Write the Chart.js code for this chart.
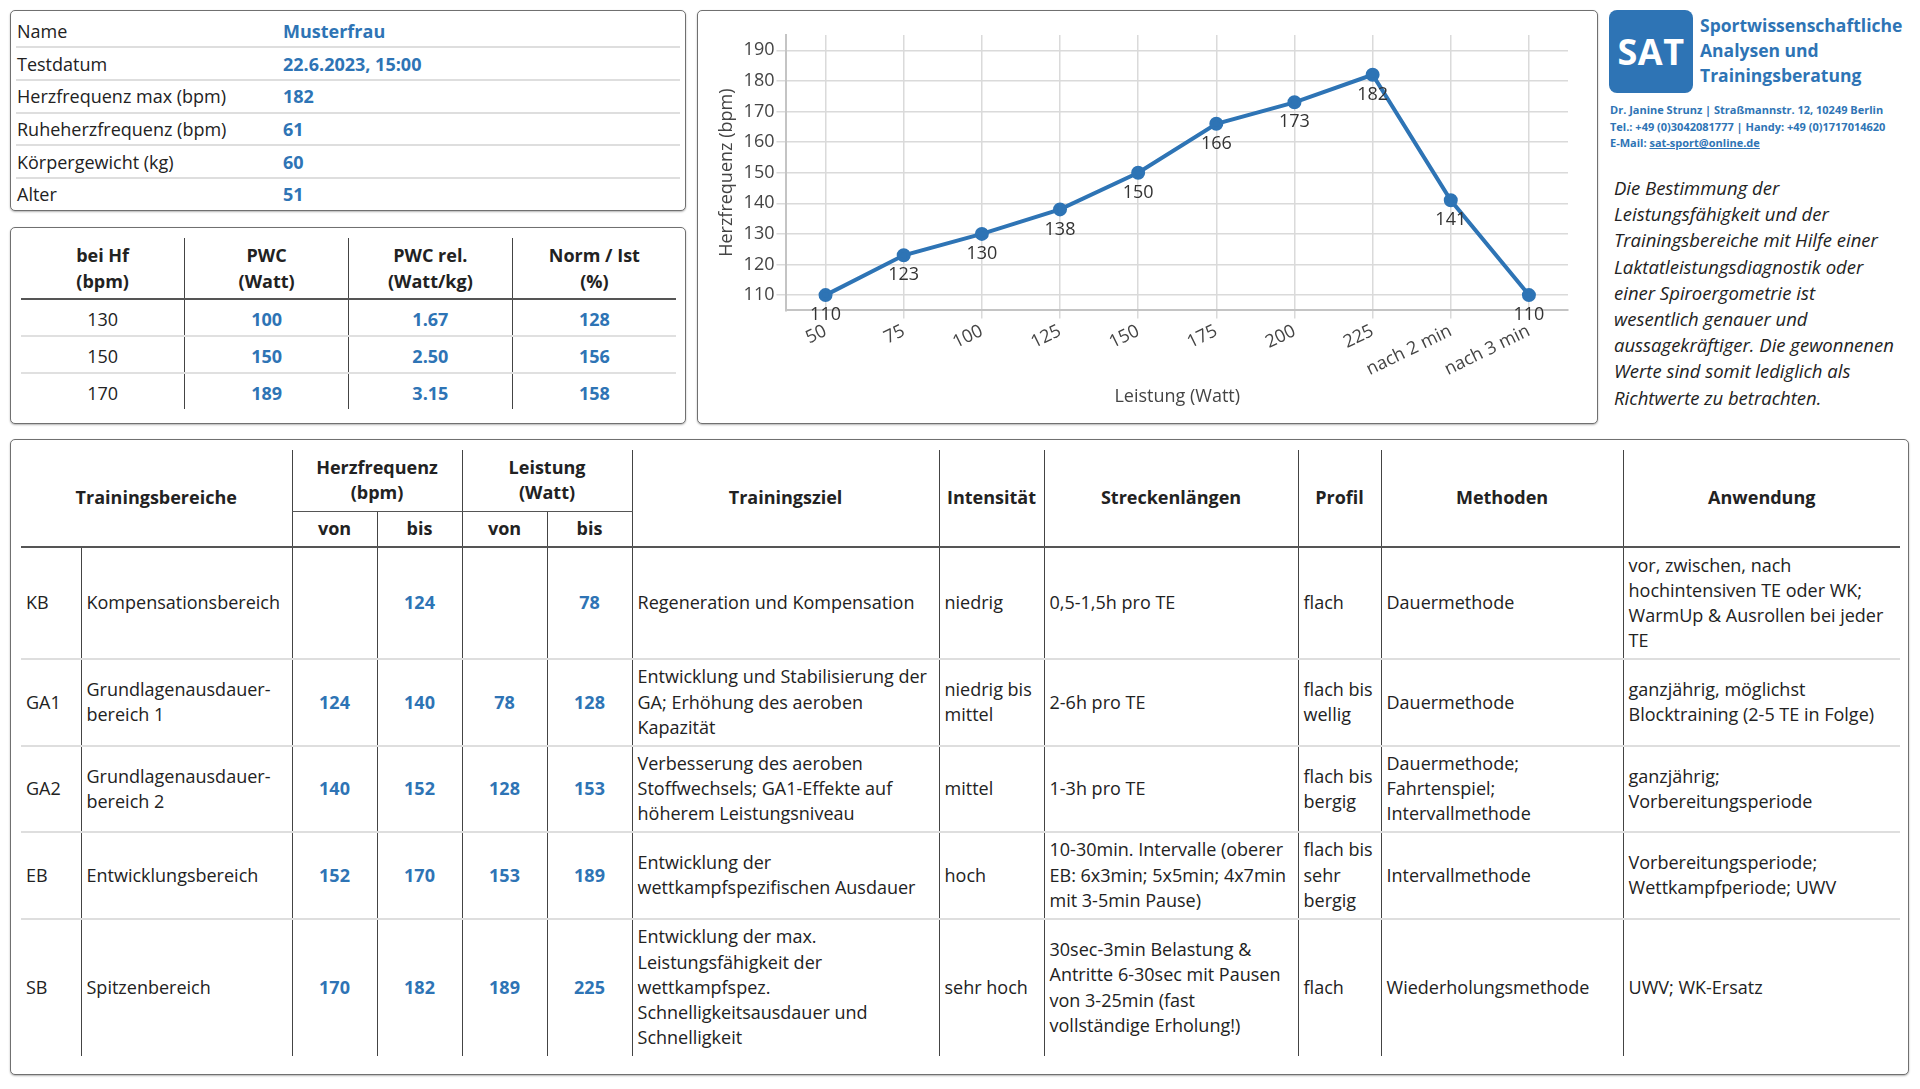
<!DOCTYPE html>
<html lang="de">
<head>
<meta charset="utf-8">
<title>Leistungsdiagnostik – Trainingsbereiche</title>
<script src="https://cdn.jsdelivr.net/npm/chart.js"></script>
<style>
  body { margin: 0; background: #fff; font-family: "Open Sans", sans-serif; color: #222; width: 1920px; height: 1089px; position: relative; overflow: hidden; }
  .box { position: absolute; box-sizing: border-box; border: 1px solid #707070; border-radius: 5px; box-shadow: 0 1px 2px rgba(0,0,0,0.3); background: #fff; }
  .blue { color: #2e74b5; font-weight: bold; }
  table { border-collapse: collapse; table-layout: fixed; }
  td, th { white-space: pre; }

  #info { left: 10px; top: 10px; width: 676px; height: 201px; }
  #info table { position: absolute; left: 5px; top: 4.5px; width: 664px; font-size: 18px; }
  #info td { height: 30.7px; padding: 0 0 0 1px; vertical-align: middle; border-bottom: 2px solid #dedede; }
  #info tr:last-child td { border-bottom: none; }

  #pwc { left: 10px; top: 227px; width: 676px; height: 197px; }
  #pwc table { position: absolute; left: 10px; top: 10px; width: 655px; font-size: 18px; }
  #pwc th { height: 60px; padding: 0; line-height: 26px; font-weight: bold; border-bottom: 2px solid #555; }
  #pwc td { height: 32px; padding: 3px 0 0 0; text-align: center; border-bottom: 2px solid #e0e0e0; }
  #pwc tr:last-child td { border-bottom: none; }
  #pwc th + th, #pwc td + td { border-left: 1px solid #444; }

  #chartBox { left: 697px; top: 10px; width: 901px; height: 414px; }
  #chartWrap { position: absolute; left: 0; top: 0; right: 0; bottom: 0; }

  #logo { position: absolute; left: 1609px; top: 10px; width: 84px; height: 83px; border-radius: 8px; background: #2e74b5; color: #fff; font-weight: bold; font-size: 36px; line-height: 83px; text-align: center; letter-spacing: 0.5px; }
  #logoTitle { position: absolute; left: 1700px; top: 13px; font-size: 17.5px; line-height: 25px; font-weight: bold; color: #2e74b5; white-space: pre; }
  #address { position: absolute; left: 1610px; top: 102px; font-size: 11px; font-weight: bold; color: #2e74b5; }
  #address div { height: 16.5px; line-height: 16.5px; white-space: pre; }
  #address a { color: #2e74b5; }
  #note { position: absolute; left: 1614px; top: 175px; font-size: 18.5px; line-height: 26.2px; font-style: italic; color: #222; white-space: pre; }

  #zones { left: 10px; top: 439px; width: 1899px; height: 636px; }
  #zones table { position: absolute; left: 10px; top: 10px; width: 1879px; font-size: 18px; line-height: 25.2px; }
  #zones th { font-weight: bold; text-align: center; vertical-align: middle; padding: 0; }
  #zones th.lv { border-left: 1px solid #444; }
  #zones th.sub { border-bottom: 1.5px solid #555; }
  #zones th.bot { border-bottom: 2px solid #555; }
  #zones td { vertical-align: middle; padding: 0 4px 0 5px; border-bottom: 2px solid #dedede; }
  #zones td + td { border-left: 1px solid #444; }
  #zones tr:last-child td { border-bottom: none; }
  #zones td.num { text-align: center; padding: 0; }
</style>
</head>
<body>

<div class="box" id="info"><table id="infoTable"><colgroup><col style="width:266px"><col></colgroup><tbody></tbody></table></div>
<div class="box" id="pwc"><table id="pwcTable"><thead><tr></tr></thead><tbody></tbody></table></div>
<div class="box" id="chartBox"><div id="chartWrap"><canvas id="hfChart"></canvas></div></div>

<div id="logo">SAT</div>
<div id="logoTitle"></div>
<div id="address"></div>
<div id="note"></div>

<div class="box" id="zones">
  <table id="zoneTable">
    <colgroup>
      <col style="width:60px"><col style="width:211px"><col style="width:85px"><col style="width:85px">
      <col style="width:85px"><col style="width:85px"><col style="width:307px"><col style="width:105px">
      <col style="width:254px"><col style="width:83px"><col style="width:242px"><col style="width:277px">
    </colgroup>
    <thead></thead>
    <tbody></tbody>
  </table>
</div>

<script>
// Stammdaten
var infoLabels = ["Name", "Testdatum", "Herzfrequenz max (bpm)", "Ruheherzfrequenz (bpm)", "Körpergewicht (kg)", "Alter"];
var infoValues = ["Musterfrau", "22.6.2023, 15:00", "182", "61", "60", "51"];

// PWC
var pwcHeaders = ["bei Hf\n(bpm)", "PWC\n(Watt)", "PWC rel.\n(Watt/kg)", "Norm / Ist\n(%)"];
var pwcHf = [130, 150, 170];
var pwcWatt = [100, 150, 189];
var pwcRel = ["1.67", "2.50", "3.15"];
var pwcNorm = [128, 156, 158];

// Stufentest
var loadLabels = ["50", "75", "100", "125", "150", "175", "200", "225", "nach 2 min", "nach 3 min"];
var heartRate = [110, 123, 130, 138, 150, 166, 173, 182, 141, 110];
var yTicks = [110, 120, 130, 140, 150, 160, 170, 180, 190];

// Trainingsbereiche
var zoneCodes = ["KB", "GA1", "GA2", "EB", "SB"];
var zoneNames = ["Kompensationsbereich", "Grundlagenausdauer-\nbereich 1", "Grundlagenausdauer-\nbereich 2", "Entwicklungsbereich", "Spitzenbereich"];
var hfFrom = ["", 124, 140, 152, 170];
var hfTo = [124, 140, 152, 170, 182];
var wattFrom = ["", 78, 128, 153, 189];
var wattTo = [78, 128, 153, 189, 225];
var zoneGoals = [
  "Regeneration und Kompensation",
  "Entwicklung und Stabilisierung der\nGA; Erhöhung des aeroben\nKapazität",
  "Verbesserung des aeroben\nStoffwechsels; GA1-Effekte auf\nhöherem Leistungsniveau",
  "Entwicklung der\nwettkampfspezifischen Ausdauer",
  "Entwicklung der max.\nLeistungsfähigkeit der\nwettkampfspez.\nSchnelligkeitsausdauer und\nSchnelligkeit"
];
var zoneIntensity = ["niedrig", "niedrig bis\nmittel", "mittel", "hoch", "sehr hoch"];
var zoneDistances = [
  "0,5-1,5h pro TE",
  "2-6h pro TE",
  "1-3h pro TE",
  "10-30min. Intervalle (oberer\nEB: 6x3min; 5x5min; 4x7min\nmit 3-5min Pause)",
  "30sec-3min Belastung &\nAntritte 6-30sec mit Pausen\nvon 3-25min (fast\nvollständige Erholung!)"
];
var zoneProfile = ["flach", "flach bis\nwellig", "flach bis\nbergig", "flach bis\nsehr\nbergig", "flach"];
var zoneMethods = ["Dauermethode", "Dauermethode", "Dauermethode;\nFahrtenspiel;\nIntervallmethode", "Intervallmethode", "Wiederholungsmethode"];
var zoneUse = [
  "vor, zwischen, nach\nhochintensiven TE oder WK;\nWarmUp & Ausrollen bei jeder\nTE",
  "ganzjährig, möglichst\nBlocktraining (2-5 TE in Folge)",
  "ganzjährig;\nVorbereitungsperiode",
  "Vorbereitungsperiode;\nWettkampfperiode; UWV",
  "UWV; WK-Ersatz"
];

var logoTitle = "Sportwissenschaftliche\nAnalysen und\nTrainingsberatung";
var addressLines = ["Dr. Janine Strunz | Straßmannstr. 12, 10249 Berlin", "Tel.: +49 (0)3042081777 | Handy: +49 (0)1717014620"];
var email = "sat-sport@online.de";
var noteText = "Die Bestimmung der\nLeistungsfähigkeit und der\nTrainingsbereiche mit Hilfe einer\nLaktatleistungsdiagnostik oder\neiner Spiroergometrie ist\nwesentlich genauer und\naussagekräftiger. Die gewonnenen\nWerte sind somit lediglich als\nRichtwerte zu betrachten.";

var blue = "#2e74b5";

function cell(tag, text, cls) {
  var c = document.createElement(tag);
  c.textContent = text;
  if (cls) c.className = cls;
  return c;
}

// Stammdaten-Tabelle
var infoBody = document.querySelector("#infoTable tbody");
infoLabels.forEach(function (label, i) {
  var tr = document.createElement("tr");
  tr.appendChild(cell("td", label));
  tr.appendChild(cell("td", infoValues[i], "blue"));
  infoBody.appendChild(tr);
});

// PWC-Tabelle
var pwcHead = document.querySelector("#pwcTable thead tr");
pwcHeaders.forEach(function (h) { pwcHead.appendChild(cell("th", h)); });
var pwcBody = document.querySelector("#pwcTable tbody");
pwcHf.forEach(function (hf, i) {
  var tr = document.createElement("tr");
  tr.appendChild(cell("td", hf));
  tr.appendChild(cell("td", pwcWatt[i], "blue"));
  tr.appendChild(cell("td", pwcRel[i], "blue"));
  tr.appendChild(cell("td", pwcNorm[i], "blue"));
  pwcBody.appendChild(tr);
});

// Trainingsbereiche-Tabelle
var zHead = document.querySelector("#zoneTable thead");
var h1 = document.createElement("tr");
h1.style.height = "61px";
var th = cell("th", "Trainingsbereiche", "bot"); th.colSpan = 2; th.rowSpan = 2; h1.appendChild(th);
th = cell("th", "Herzfrequenz\n(bpm)", "lv sub"); th.colSpan = 2; h1.appendChild(th);
th = cell("th", "Leistung\n(Watt)", "lv sub"); th.colSpan = 2; h1.appendChild(th);
["Trainingsziel", "Intensität", "Streckenlängen", "Profil", "Methoden", "Anwendung"].forEach(function (t) {
  var c = cell("th", t, "lv bot"); c.rowSpan = 2; h1.appendChild(c);
});
var h2 = document.createElement("tr");
h2.style.height = "36px";
["von", "bis", "von", "bis"].forEach(function (t) { h2.appendChild(cell("th", t, "lv bot")); });
zHead.appendChild(h1);
zHead.appendChild(h2);

var rowHeights = [112, 86.5, 86.5, 86.5, 137];
var zBody = document.querySelector("#zoneTable tbody");
zoneCodes.forEach(function (code, i) {
  var tr = document.createElement("tr");
  tr.style.height = rowHeights[i] + "px";
  tr.appendChild(cell("td", code));
  tr.appendChild(cell("td", zoneNames[i]));
  tr.appendChild(cell("td", hfFrom[i], "num blue"));
  tr.appendChild(cell("td", hfTo[i], "num blue"));
  tr.appendChild(cell("td", wattFrom[i], "num blue"));
  tr.appendChild(cell("td", wattTo[i], "num blue"));
  tr.appendChild(cell("td", zoneGoals[i]));
  tr.appendChild(cell("td", zoneIntensity[i]));
  tr.appendChild(cell("td", zoneDistances[i]));
  tr.appendChild(cell("td", zoneProfile[i]));
  tr.appendChild(cell("td", zoneMethods[i]));
  tr.appendChild(cell("td", zoneUse[i]));
  zBody.appendChild(tr);
});

// Kopf rechts
document.getElementById("logoTitle").textContent = logoTitle;
var addr = document.getElementById("address");
addressLines.forEach(function (line) { addr.appendChild(cell("div", line)); });
var mailLine = cell("div", "E-Mail: ");
var a = document.createElement("a");
a.href = "mailto:" + email;
a.textContent = email;
mailLine.appendChild(a);
addr.appendChild(mailLine);
document.getElementById("note").textContent = noteText;

// Werte unter den Punkten
var pointValues = {
  id: "pointValues",
  afterDatasetsDraw: function (chart) {
    var ctx = chart.ctx;
    var meta = chart.getDatasetMeta(0);
    ctx.save();
    ctx.font = "18px 'Open Sans'";
    ctx.fillStyle = "#333";
    ctx.textAlign = "center";
    ctx.textBaseline = "top";
    meta.data.forEach(function (pt, i) {
      ctx.fillText(chart.data.datasets[0].data[i], pt.x, pt.y + 11);
    });
    ctx.restore();
  }
};

Chart.defaults.font.family = "'Open Sans', sans-serif";
Chart.defaults.font.size = 18;
Chart.defaults.color = "#444";

new Chart("hfChart", {
  type: "line",
  data: {
    labels: loadLabels,
    datasets: [{
      data: heartRate,
      borderColor: blue,
      backgroundColor: blue,
      borderWidth: 4,
      pointRadius: 5,
      pointHoverRadius: 5,
      tension: 0
    }]
  },
  options: {
    responsive: true,
    maintainAspectRatio: false,
    animation: false,
    layout: { padding: { top: 24, right: 29, bottom: 11, left: 14 } },
    plugins: {
      legend: { display: false },
      tooltip: { enabled: false }
    },
    scales: {
      x: {
        offset: true,
        grid: { color: "#dadada", lineWidth: 1.5, tickLength: 8 },
        border: { color: "#c4c4c4", width: 2 },
        ticks: { minRotation: 26, maxRotation: 26, padding: 2 },
        title: { display: true, text: "Leistung (Watt)" }
      },
      y: {
        min: 105,
        max: 195,
        afterBuildTicks: function (axis) {
          axis.ticks = yTicks.map(function (v) { return { value: v }; });
        },
        grid: { color: "#dadada", lineWidth: 1.5, tickLength: 10 },
        border: { color: "#c4c4c4", width: 2 },
        ticks: { padding: 2 },
        title: { display: true, text: "Herzfrequenz (bpm)" }
      }
    }
  },
  plugins: [pointValues]
});
</script>
</body>
</html>
